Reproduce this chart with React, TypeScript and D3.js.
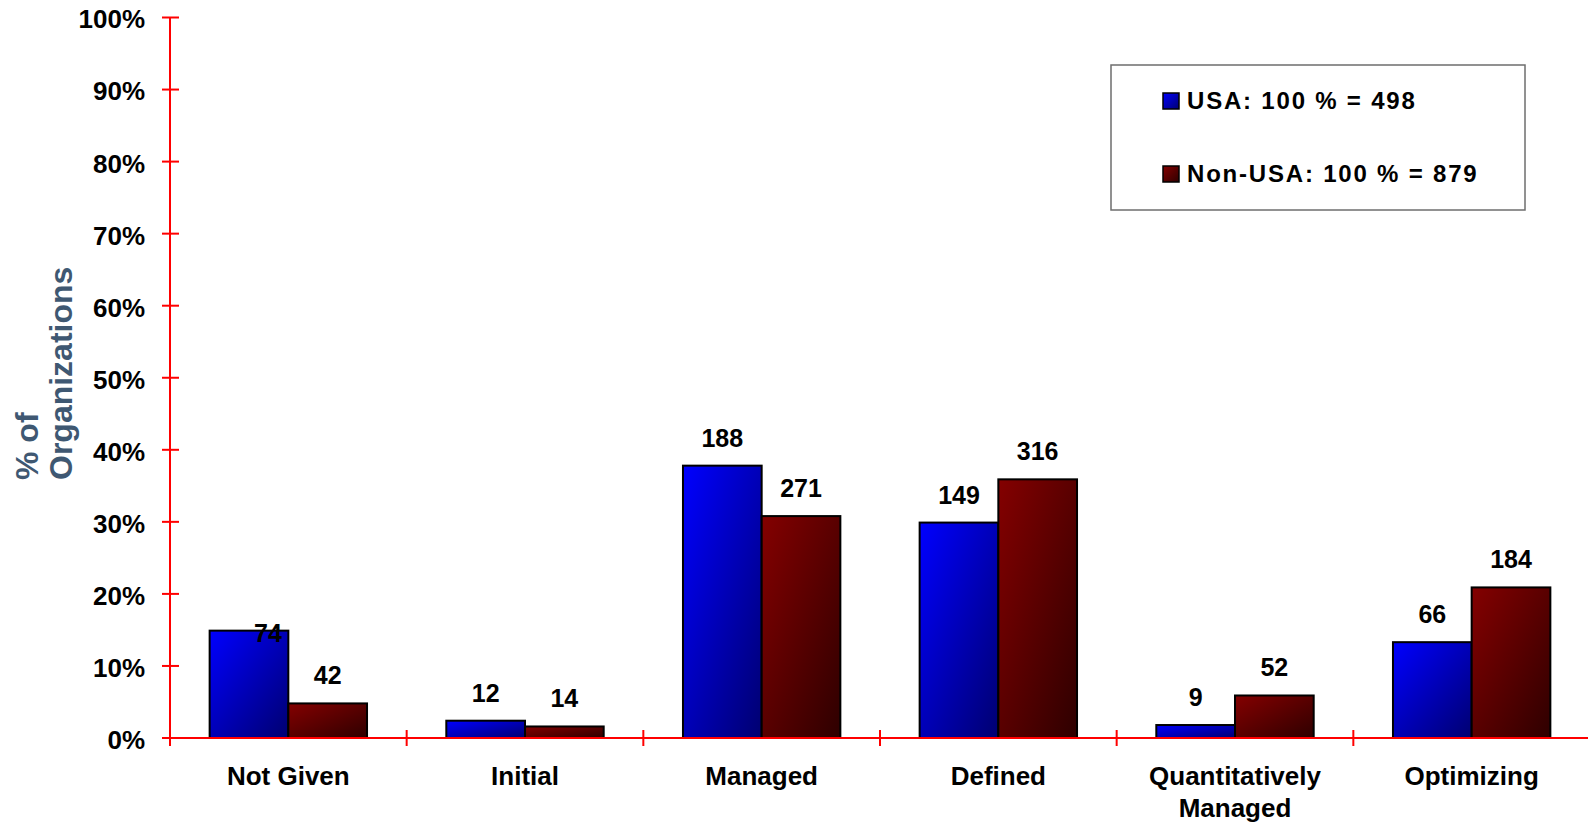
// Maturity level distribution - USA vs Non-USA organizations (grouped bars)

import * as d3 from "d3";

const categories = ["Not Given", "Initial", "Managed", "Defined", "Quantitatively Managed", "Optimizing"];
const seriesNames = ["USA", "Non-USA"];
const seriesTotals = [498, 879];

// share of organizations (%) per category
const usaPct = [14.9, 2.4, 37.8, 29.9, 1.8, 13.3];
const nonUsaPct = [4.8, 1.6, 30.8, 35.9, 5.9, 20.9];

// counts printed above the bars
const usaCounts = [74, 12, 188, 149, 9, 66];
const nonUsaCounts = [42, 14, 271, 316, 52, 184];

const yTicks = [0, 10, 20, 30, 40, 50, 60, 70, 80, 90, 100];

const FONT = "'Liberation Sans', Arial, Helvetica, sans-serif";

const W = 1588;
const H = 824;
const plot = { left: 170, right: 1590, top: 17.5, bottom: 738 };

// the "74" label sits off its bar in the original
const labelNudge: Record<string, [number, number]> = { "0-0": [19, 30] };

export default function App() {
  const x0 = d3
    .scaleBand<string>()
    .domain(categories)
    .range([plot.left, plot.right])
    .paddingInner(0.335)
    .paddingOuter(0.1675);

  const x1 = d3
    .scaleBand<string>()
    .domain(seriesNames)
    .range([0, x0.bandwidth()])
    .padding(0);

  const y = d3.scaleLinear().domain([0, 100]).range([plot.bottom, plot.top]);

  const pct = [usaPct, nonUsaPct];
  const counts = [usaCounts, nonUsaCounts];
  const fills = ["url(#grad-usa)", "url(#grad-nonusa)"];

  const step = x0.step();
  const boundaries = d3.range(categories.length + 1).map((i) => plot.left + i * step);

  return (
    <svg
      width={W}
      height={H}
      style={{ position: "absolute", left: 0, top: 0, background: "#fff" }}
      fontFamily={FONT}
      fontWeight="bold"
    >
      <defs>
        <linearGradient id="grad-usa" x1="0" y1="0" x2="1" y2="1">
          <stop offset="0%" stopColor="#0000ff" />
          <stop offset="100%" stopColor="#000070" />
        </linearGradient>
        <linearGradient id="grad-nonusa" x1="0" y1="0" x2="1" y2="1">
          <stop offset="0%" stopColor="#840000" />
          <stop offset="100%" stopColor="#2e0000" />
        </linearGradient>
      </defs>

      {/* bars */}
      {categories.map((cat, ci) => (
        <g key={cat} transform={`translate(${x0(cat)},0)`}>
          {seriesNames.map((s, si) => {
            const v = pct[si][ci];
            return (
              <rect
                key={s}
                x={x1(s)}
                y={y(v)}
                width={x1.bandwidth()}
                height={y(0) - y(v)}
                fill={fills[si]}
                stroke="#000"
                strokeWidth={2}
              />
            );
          })}
        </g>
      ))}

      {/* y axis */}
      <line x1={plot.left} x2={plot.left} y1={y(100)} y2={plot.bottom + 8} stroke="#ff0000" strokeWidth={2} />
      {yTicks.map((t) => (
        <g key={t} transform={`translate(0,${y(t)})`}>
          <line x1={plot.left - 8} x2={plot.left + 9} stroke="#ff0000" strokeWidth={2} />
          <text x={plot.left - 25} dy="0.42em" textAnchor="end" fontSize={26} fill="#000">
            {t}%
          </text>
        </g>
      ))}

      {/* x axis */}
      <line x1={plot.left} x2={W} y1={plot.bottom} y2={plot.bottom} stroke="#ff0000" strokeWidth={2} />
      {boundaries.map((bx, i) => (
        <line key={i} x1={bx} x2={bx} y1={plot.bottom - 8} y2={plot.bottom + 8} stroke="#ff0000" strokeWidth={2} />
      ))}
      {categories.map((cat) => {
        const words = cat === "Quantitatively Managed" ? ["Quantitatively", "Managed"] : [cat];
        return (
          <text
            key={cat}
            x={(x0(cat) ?? 0) + x0.bandwidth() / 2}
            y={plot.bottom + 47}
            textAnchor="middle"
            fontSize={26}
            fill="#000"
          >
            {words.map((w, i) => (
              <tspan key={w} x={(x0(cat) ?? 0) + x0.bandwidth() / 2} dy={i === 0 ? 0 : 32}>
                {w}
              </tspan>
            ))}
          </text>
        );
      })}

      {/* value labels */}
      {categories.map((cat, ci) =>
        seriesNames.map((s, si) => {
          const nudge = labelNudge[`${ci}-${si}`] ?? [0, 0];
          const cx = (x0(cat) ?? 0) + (x1(s) ?? 0) + x1.bandwidth() / 2;
          return (
            <text
              key={`${cat}-${s}`}
              x={cx + nudge[0]}
              y={y(pct[si][ci]) - 19 + nudge[1]}
              textAnchor="middle"
              fontSize={25}
              fill="#000"
            >
              {counts[si][ci]}
            </text>
          );
        })
      )}

      {/* y axis title */}
      <text transform="translate(38,480) rotate(-90)" fontSize={32} fill="#3f5872">
        <tspan x={0} y={0}>% of</tspan>
        <tspan x={0} y={34}>Organizations</tspan>
      </text>

      {/* legend */}
      <g>
        <rect x={1111} y={65} width={414} height={145} fill="#fff" stroke="#6e6e6e" strokeWidth={1.5} />
        {seriesNames.map((s, si) => (
          <g key={s} transform={`translate(1163,${93 + si * 73})`}>
            <rect width={16} height={16} fill={fills[si]} stroke="#000" strokeWidth={1.5} />
            <text x={24} y={16} fontSize={24} letterSpacing={1.8} fill="#000">
              {`${s}: 100 % = ${seriesTotals[si]}`}
            </text>
          </g>
        ))}
      </g>
    </svg>
  );
}
